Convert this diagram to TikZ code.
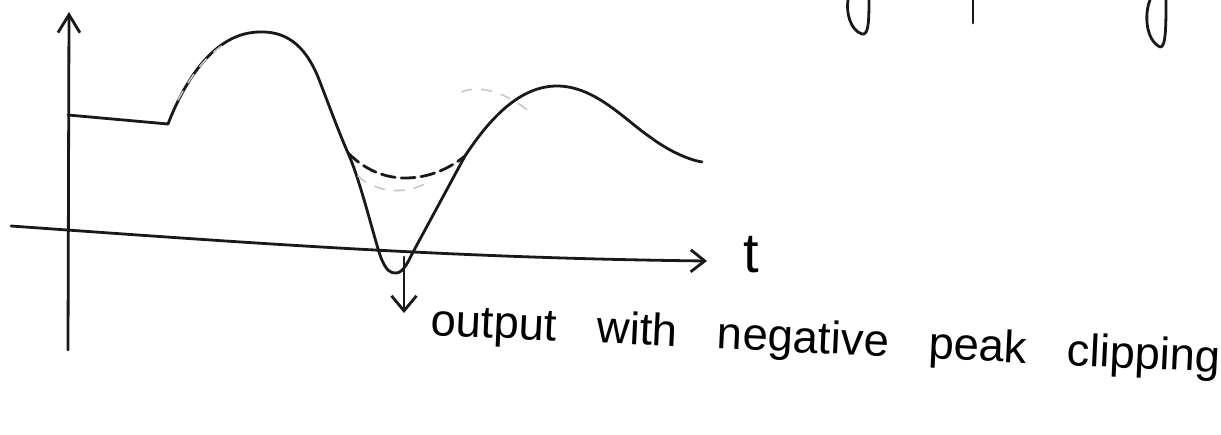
\documentclass[tikz,border=0pt]{standalone}
\usepackage{fontspec}
\setmainfont{Liberation Sans}
\usetikzlibrary{arrows.meta}
\tikzset{
  pen/.style={line width=1.4pt, line cap=round, line join=round, black!90},
  faint/.style={line width=0.8pt, black!22, dash pattern=on 5pt off 5pt, line cap=round},
  clipdash/.style={pen, dash pattern=on 7pt off 3pt},
  axisarrow/.style={pen, -{Straight Barb[length=9pt,width=11pt,line width=1.4pt]}},
  tlarrow/.style={pen, -{Straight Barb[length=7pt,width=11pt,line width=1.4pt]}},
  downarrow/.style={pen, -{Straight Barb[length=7.5pt,width=12.5pt,line width=1.4pt]}},
  handtext/.style={inner sep=0pt, font=\fontsize{22.7}{26}\selectfont}
}
\begin{document}
\begin{tikzpicture}[x=0.5pt,y=-0.5pt]
\useasboundingbox (0,0) rectangle (1221,434);
\fill[white] (0,0) rectangle (1221,434);

% axes
\coordinate (ybot) at (68,350);
\coordinate (ytop) at (69,12);
\coordinate (xleft) at (11,226);
\coordinate (xright) at (707,261);
\draw[axisarrow] (ybot) -- (ytop);
\draw[tlarrow] (xleft) .. controls (250,243) and (450,258) .. (xright);
\node[handtext, font=\fontsize{28}{30}\selectfont] (tlab) at (751,255) {t};

% clipped output waveform
\coordinate (w0) at (68,115);
\coordinate (w1) at (168,124);
\coordinate (pk1) at (260,32);
\coordinate (br) at (348,153);
\coordinate (low) at (396,273);
\coordinate (jn) at (465,156);
\coordinate (pk2) at (557,86);
\coordinate (wend) at (702,162);
\draw[pen] (w0) -- (w1)
  .. controls (185,80) and (215,32) .. (pk1)
  .. controls (290,31) and (308,50) .. (320,82)
  .. controls (330,108) and (340,135) .. (br)
  .. controls (360,180) and (372,230) .. (380,255)
  .. controls (386,272) and (391,273) .. (low)
  .. controls (403,273) and (408,262) .. (412,254)
  -- (jn)
  .. controls (490,118) and (520,86) .. (pk2)
  .. controls (595,86) and (625,120) .. (650,137)
  .. controls (670,152) and (690,160) .. (wend);

% dashed clipped level
\draw[clipdash] (br) .. controls (365,170) and (385,178) .. (405,178)
  .. controls (430,178) and (450,168) .. (jn);

% faint pencil traces
\draw[faint] (178,100) .. controls (190,78) and (205,55) .. (228,42);
\draw[faint] (462,92) .. controls (475,86) and (500,88) .. (530,112);
\draw[faint] (358,176) .. controls (375,192) and (405,196) .. (428,182);

% annotation arrow and label
\coordinate (astart) at (404,257);
\coordinate (aend) at (404,313);
\draw[downarrow] (astart) -- (aend);
\node[handtext, anchor=base west, rotate=-2.7] (lbl) at (430,335)
  {\spaceskip=0.88em output with negative peak clipping};

% descender fragments from the line above (cut off)
\draw[pen] (848,0) .. controls (846,12) and (850,30) .. (862,34)
  .. controls (868,35) and (869,25) .. (869,0);
\draw[pen] (973,0) -- (973,23);
\draw[pen] (1150,0) .. controls (1144,15) and (1146,40) .. (1160,47)
  .. controls (1166,48) and (1166,25) .. (1166,0);
\end{tikzpicture}
\end{document}
